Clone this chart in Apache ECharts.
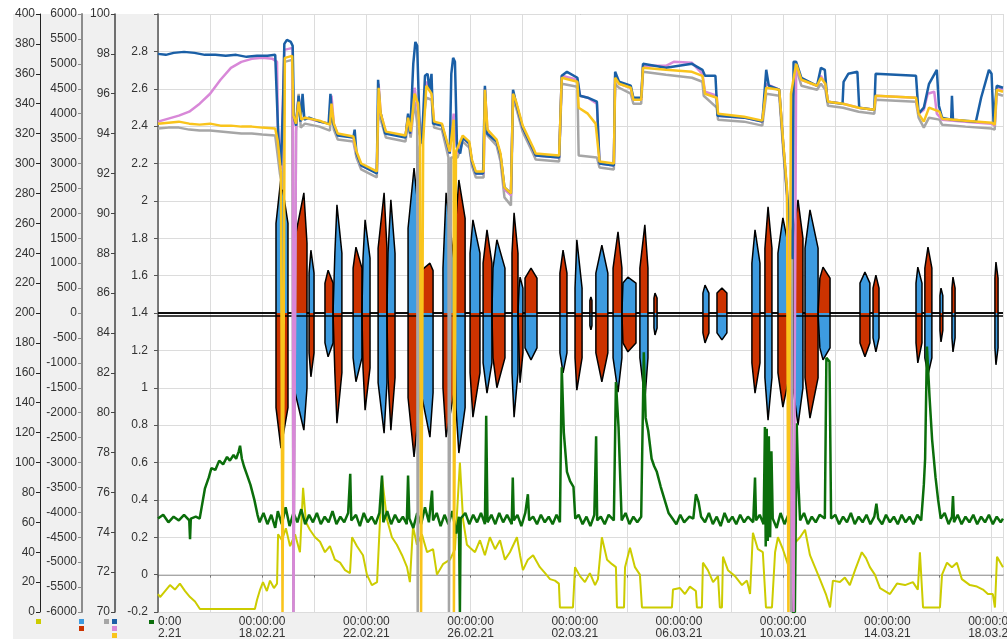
<!DOCTYPE html>
<html>
<head>
<meta charset="utf-8">
<script src="https://cdn.jsdelivr.net/npm/echarts@6/dist/echarts.min.js"></script>
<style>
html,body{margin:0;padding:0;background:#fff;}
#wrap{position:relative;width:1007px;height:639px;overflow:hidden;background:#fff;}
.panel{position:absolute;background:#f0f0f0;}
#plotBg{position:absolute;left:158px;top:14px;width:845px;height:598px;background:#fff;border-top:1px solid #9a9a9a;box-sizing:border-box;}
#chart{position:absolute;left:0;top:0;width:1007px;height:639px;}
</style>
</head>
<body>
<div id="wrap">
  <div class="panel" style="left:13px;top:14px;width:145px;height:625px;"></div>
  <div class="panel" style="left:13px;top:612px;width:994px;height:27px;"></div>
  <div id="plotBg"></div>
  <div id="chart"></div>
</div>
<script>
// x values are days counted from 14.02.2021 00:00
const DAY0 = Date.UTC(2021, 1, 14);
const X_MAX = 32.44;

// top group (axis 70..100)
const blueTop = [[0,98.0],[0.3,97.95],[0.6,98.05],[1.0,98.1],[1.4,98.05],[1.8,97.95],[2.2,97.95],[2.6,97.9],[3.0,97.95],[3.4,97.85],[3.8,97.9],[4.2,97.9],[4.5,97.95],[4.57,97.9],
  [4.62,93.8],[4.72,92.4],[4.8,95.5],[4.85,98.5],[4.95,98.7],[5.1,98.6],[5.17,98.4],[5.22,94.8],
  [5.3,94.4],[5.4,95.9],[5.47,94.6],[5.55,96.0],[5.62,94.7],[5.8,94.8],[6.2,94.6],[6.55,94.5],[6.62,96.0],[6.7,94.6],[6.9,93.9],[7.5,93.8],[7.55,94.2],[7.62,93.0],[7.8,92.4],[8.4,92.0],[8.45,96.7],[8.52,95.2],[8.72,94.0],[9.5,93.8],[9.6,95.0],[9.68,94.0],[9.8,97.5],[9.88,98.6],[9.95,98.4],[10.05,94.0],[10.13,93.5],[10.25,96.9],[10.35,97.0],[10.42,96.2],[10.5,97.0],[10.56,94.5],[10.9,94.4],[11.2,93.0],[11.26,97.0],[11.33,97.8],[11.4,97.6],[11.48,93.3],[11.6,93.0],[11.7,93.8],[11.95,93.5],[12.05,92.6],[12.2,92.0],[12.48,92.0],[12.55,96.4],[12.63,94.0],[13.0,93.6],[13.15,92.9],[13.3,91.3],[13.55,91.0],[13.63,96.2],[13.75,95.5],[14.0,94.3],[14.4,93.2],[14.5,92.9],[15.4,92.8],[15.5,96.9],[15.7,97.1],[16.1,96.8],[16.2,95.9],[16.5,95.8],[16.85,95.6],[16.95,92.5],[17.5,92.4],[17.55,97.1],[17.7,96.6],[18.15,96.4],[18.25,95.8],[18.55,95.8],[18.62,97.5],[19.5,97.3],[20.0,97.4],[20.5,97.5],[20.9,97.2],[21.0,96.9],[21.4,96.9],[21.48,94.9],[22.5,94.8],[23.2,94.6],[23.35,97.2],[23.45,96.4],[23.85,96.2],[24.0,93.5],[24.15,91.0],[24.36,87.7],[24.4,97.6],[24.5,97.6],[24.7,96.8],[25.3,96.4],[25.45,97.3],[25.6,97.2],[25.7,95.6],[26.28,95.5],[26.32,96.6],[26.5,97.0],[26.85,97.1],[26.92,95.3],[27.5,95.2],[27.55,97.0],[29.1,96.9],[29.2,95.0],[29.4,95.3],[29.6,96.5],[29.9,97.2],[29.98,95.4],[30.1,94.8],[30.45,94.7],[30.48,95.9],[30.52,94.7],[31.4,94.6],[31.6,95.8],[31.9,97.2],[32.0,97.0],[32.08,94.5],[32.2,96.4],[32.44,96.3]];

const goldTop = [[0,94.5],[0.4,94.55],[0.8,94.6],[1.2,94.5],[1.6,94.45],[2.0,94.5],[2.4,94.4],[2.8,94.4],[3.2,94.35],[3.6,94.35],[4.0,94.3],[4.5,94.25],[4.6,93.6],[4.72,92.0],[4.78,70],[4.84,70],[4.87,97.8],[5.15,97.9],[5.2,94.9],[5.3,94.5],[5.4,95.6],[5.5,94.7],[5.64,94.8],[6.2,94.65],[6.6,94.45],[6.66,95.5],[6.75,94.5],[6.9,94.0],[7.5,93.85],[7.62,93.1],[7.8,92.5],[8.4,92.1],[8.47,96.3],[8.55,95.0],[8.75,94.1],[9.5,93.9],[9.6,94.8],[9.7,94.1],[9.85,96.0],[9.98,95.5],[10.06,93.6],[10.1,70],[10.14,70],[10.18,93.6],[10.3,96.4],[10.5,96.0],[10.6,94.6],[10.9,94.5],[11.2,93.1],[11.35,94.7],[11.36,70],[11.4,70],[11.44,93.1],[11.7,93.9],[11.95,93.6],[12.05,92.7],[12.2,92.1],[12.5,92.1],[12.55,96.2],[12.65,94.2],[13.0,93.7],[13.15,93.0],[13.3,91.3],[13.55,91.0],[13.63,96.0],[13.75,95.6],[14.0,94.4],[14.4,93.3],[14.5,93.0],[15.4,92.9],[15.5,96.8],[16.1,96.6],[16.15,95.3],[16.5,95.0],[16.8,94.5],[16.95,92.6],[17.5,92.5],[17.55,96.8],[17.7,96.5],[18.15,96.3],[18.25,95.7],[18.55,95.7],[18.62,97.3],[19.5,97.2],[20.5,97.1],[20.9,96.9],[21.0,96.0],[21.45,95.8],[21.5,95.0],[22.5,94.85],[23.2,94.65],[23.35,96.3],[23.85,96.2],[24.0,93.6],[24.15,91.2],[24.2,70],[24.26,70],[24.3,96.0],[24.5,97.5],[24.7,96.7],[25.3,96.4],[25.45,96.8],[25.62,96.5],[25.72,95.6],[26.3,95.5],[26.9,95.3],[27.5,95.2],[27.55,95.9],[29.1,95.8],[29.2,95.0],[29.4,94.6],[29.6,95.3],[30.0,95.1],[30.1,94.75],[31.0,94.65],[32.0,94.55],[32.12,94.45],[32.2,96.2],[32.44,96.1]];

const pinkTop = [[0,94.6],[0.4,94.75],[0.8,94.9],[1.2,95.1],[1.6,95.5],[2.0,96.0],[2.4,96.7],[2.8,97.3],[3.2,97.6],[3.6,97.75],[4.0,97.8],[4.4,97.75],[4.57,97.6],[4.6,94.4],[4.72,92.2],[4.85,98.2],[5.17,98.3],[5.2,70],[5.26,70],[5.3,94.5],[5.4,95.8],[5.5,94.7],[5.64,94.8],[6.2,94.6],[6.6,94.5],[6.66,95.9],[6.75,94.5],[6.9,93.95],[7.5,93.8],[7.62,93.0],[7.8,92.4],[8.4,92.05],[8.47,96.5],[8.55,95.0],[8.75,94.05],[9.5,93.85],[9.6,94.9],[9.7,94.0],[9.85,96.3],[10.0,95.0],[10.13,93.5],[10.3,96.6],[10.5,96.2],[10.6,94.5],[10.9,94.45],[11.2,93.0],[11.35,95.0],[11.5,93.0],[11.7,93.8],[11.95,93.5],[12.05,92.6],[12.2,92.0],[12.5,92.0],[12.55,96.3],[12.65,94.1],[13.0,93.6],[13.15,92.9],[13.3,91.2],[13.55,90.9],[13.63,96.1],[13.75,95.5],[14.0,94.3],[14.4,93.2],[14.5,92.9],[15.4,92.8],[15.5,96.9],[16.1,96.7],[16.2,95.9],[16.5,95.8],[16.85,95.5],[16.95,92.5],[17.5,92.4],[17.55,96.9],[17.7,96.5],[18.15,96.3],[18.25,95.7],[18.55,95.7],[18.62,97.4],[19.5,97.4],[19.8,97.6],[20.5,97.55],[20.9,97.0],[21.0,96.1],[21.45,95.9],[21.5,94.9],[22.5,94.8],[23.2,94.6],[23.35,96.5],[23.85,96.2],[24.0,93.5],[24.15,91.0],[24.4,70],[24.45,70],[24.5,97.5],[24.7,96.7],[25.3,96.4],[25.45,96.9],[25.62,96.5],[25.72,95.6],[26.3,95.5],[26.9,95.3],[27.5,95.2],[27.55,95.9],[29.1,95.8],[29.2,95.0],[29.4,95.2],[29.55,96.0],[29.8,96.1],[29.9,95.0],[30.1,94.7],[31.0,94.6],[32.0,94.5],[32.12,94.4],[32.2,96.3],[32.44,96.2]];

const grayTop = [[0,94.25],[0.4,94.3],[0.8,94.3],[1.2,94.2],[1.6,94.15],[2.0,94.15],[2.4,94.1],[2.8,94.05],[3.2,94.0],[3.6,94.0],[4.0,93.95],[4.5,93.9],[4.57,93.8],[4.68,92.0],[4.8,91.2],[4.86,97.6],[5.15,97.7],[5.2,70],[5.25,70],[5.3,94.1],[5.4,96.0],[5.48,94.3],[5.64,94.5],[6.2,94.35],[6.6,94.15],[6.66,95.2],[6.75,94.2],[6.9,93.7],[7.5,93.6],[7.62,92.8],[7.8,92.2],[8.4,91.8],[8.47,95.9],[8.55,94.7],[8.75,93.8],[9.5,93.6],[9.6,94.5],[9.7,93.8],[9.85,95.6],[9.95,94.5],[9.97,70],[10.01,70],[10.05,93.3],[10.3,95.8],[10.5,95.7],[10.6,94.3],[10.9,94.2],[11.15,92.8],[11.17,70],[11.21,70],[11.25,92.8],[11.5,92.8],[11.7,93.6],[11.95,93.3],[12.05,92.4],[12.2,91.8],[12.5,91.8],[12.55,95.8],[12.65,93.9],[13.0,93.4],[13.15,92.6],[13.3,90.8],[13.55,90.4],[13.63,95.7],[13.75,95.3],[14.0,94.1],[14.4,93.0],[14.5,92.7],[15.4,92.6],[15.5,96.5],[16.1,96.35],[16.15,92.9],[16.85,92.8],[16.95,92.3],[17.5,92.2],[17.55,96.5],[17.7,96.3],[18.15,96.0],[18.25,95.5],[18.55,95.5],[18.62,97.1],[19.5,96.95],[20.5,96.8],[20.9,96.6],[20.95,95.9],[21.45,95.3],[21.5,94.7],[22.5,94.6],[23.2,94.4],[23.35,96.0],[23.85,95.9],[24.0,93.2],[24.15,90.8],[24.3,70],[24.34,70],[24.38,95.8],[24.5,97.3],[24.7,96.4],[25.3,96.2],[25.45,96.5],[25.62,96.2],[25.72,95.4],[26.3,95.3],[26.9,95.1],[27.5,95.0],[27.55,95.7],[29.1,95.6],[29.2,94.8],[29.4,94.3],[29.6,94.8],[30.0,94.7],[30.1,94.45],[31.0,94.35],[32.0,94.25],[32.12,94.2],[32.2,96.0],[32.44,95.9]];

// pulses on the -6000..6000 axis: [start, peak, end, upPeak, upShoulder, downPeak, downShoulder, series on top]
const pulses = [
  [4.53,4.72,4.99,2710,1800,2710,1900,'b'],[5.22,5.60,5.72,2410,1400,2350,1500,'r'],[5.80,5.87,5.99,1260,800,1280,800,'b'],
  [6.41,6.53,6.72,860,600,880,600,'r'],[6.79,6.87,7.06,2170,1200,2210,1200,'b'],[7.49,7.60,7.83,1320,900,1380,900,'r'],
  [7.87,7.95,8.14,1870,1100,1950,1100,'b'],[8.45,8.68,8.79,2410,1300,2410,1400,'r'],[8.83,8.94,9.10,2270,1200,2350,1300,'b'],
  [9.60,9.83,10.06,2910,1700,2890,1700,'b'],[10.10,10.44,10.56,1000,850,2490,1600,'r'],[10.94,11.06,11.40,2410,900,2490,1500,'b'],
  [11.44,11.55,11.79,2670,1900,2810,1900,'r'],[11.98,12.09,12.36,1870,1200,2090,1200,'b'],[12.48,12.63,12.82,1670,1000,1610,1000,'r'],
  [12.86,13.01,13.32,1470,900,1500,900,'b'],[13.59,13.67,13.82,2010,1200,2090,1200,'r'],[13.86,13.90,14.01,720,500,1400,800,'b'],
  [14.09,14.32,14.55,900,700,940,700,'r'],[15.43,15.55,15.70,1260,800,1200,800,'r'],[16.01,16.08,16.28,1470,500,1550,900,'b'],
  [16.58,16.62,16.66,320,250,340,250,'r'],[16.81,17.04,17.27,1360,800,1380,800,'b'],[17.47,17.66,17.81,1630,900,1590,900,'r'],
  [17.85,18.04,18.35,720,600,780,600,'b'],[18.50,18.69,18.81,1770,900,1750,900,'r'],[19.04,19.08,19.16,400,300,440,300,'r'],
  [20.92,21.00,21.15,560,400,600,400,'b'],[21.46,21.65,21.84,500,400,540,400,'r'],[22.80,22.92,23.11,1670,1000,1610,1000,'b'],
  [23.30,23.42,23.57,2130,1300,2150,1300,'r'],[23.80,23.99,24.26,1910,1200,1890,1200,'b'],[24.38,24.57,24.76,2270,1500,2250,1500,'r'],
  [24.84,25.03,25.34,2070,1300,2110,1300,'b'],[25.41,25.53,25.80,920,700,940,700,'r'],[26.95,27.14,27.33,820,600,880,600,'b'],
  [27.45,27.56,27.68,760,500,780,500,'r'],[29.10,29.17,29.33,920,600,1000,600,'b'],[29.44,29.56,29.71,1320,900,1240,900,'r'],
  [30.02,30.06,30.13,500,350,580,350,'b'],[30.48,30.52,30.60,720,500,780,500,'r'],[32.13,32.17,32.25,1020,700,1040,700,'r']
];
// lower edge of the black zero band on the same axis
const zeroBandLow = -60;

// green line (axis -0.2..3.0)
const greenLine = [[0,0.30],[0.2,0.32],[0.4,0.28],[0.6,0.31],[0.8,0.29],[1.0,0.32],[1.2,0.29],[1.23,0.19],[1.26,0.30],[1.45,0.31],[1.6,0.30],
  [1.7,0.38],[1.8,0.46],[1.95,0.52],[2.05,0.57],[2.2,0.56],[2.35,0.61],[2.5,0.59],[2.65,0.63],[2.76,0.61],[2.9,0.64],[3.0,0.62],[3.1,0.66],[3.15,0.69],[3.22,0.62],[3.3,0.58],[3.4,0.54],[3.55,0.48],[3.7,0.40],[3.82,0.32],
  [3.9,0.28],[4.05,0.33],[4.2,0.27],[4.35,0.32],[4.5,0.25],[4.6,0.34],[4.75,0.27],[4.9,0.36],[5.05,0.26],[5.2,0.33],[5.35,0.28],[5.5,0.35],[5.65,0.27],[5.8,0.32],[5.95,0.28],[6.1,0.33],[6.25,0.27],[6.4,0.31],[6.55,0.28],[6.7,0.34],[6.85,0.27],[7.0,0.31],[7.15,0.28],[7.3,0.33],[7.38,0.54],[7.42,0.29],[7.6,0.32],[7.75,0.26],[7.9,0.33],[8.05,0.28],[8.2,0.31],[8.35,0.27],[8.5,0.33],[8.6,0.53],[8.65,0.28],[8.8,0.34],[8.95,0.27],[9.1,0.32],[9.25,0.28],[9.4,0.31],[9.55,0.27],[9.6,0.53],[9.65,0.30],[9.8,0.25],[9.95,0.33],[10.1,0.27],[10.25,0.36],[10.4,0.28],[10.52,0.45],[10.56,0.29],[10.7,0.33],[10.85,0.26],[11.0,0.32],[11.15,0.27],[11.3,0.34],[11.45,0.22],[11.55,0.31],[11.59,-0.2],[11.62,0.30],[11.8,0.33],[11.95,0.27],[12.1,0.32],[12.25,0.28],[12.4,0.33],[12.55,0.27],[12.6,0.85],[12.65,0.28],[12.8,0.32],[12.95,0.27],[13.1,0.33],[13.25,0.28],[13.4,0.32],[13.58,0.27],[13.62,0.52],[13.66,0.29],[13.8,0.32],[13.95,0.26],[14.1,0.33],[14.2,0.43],[14.25,0.29],[14.4,0.31],[14.55,0.27],[14.7,0.32],[14.85,0.28],[15.0,0.31],[15.15,0.27],[15.3,0.32],[15.43,0.28],
  [15.5,1.11],[15.58,0.76],[15.7,0.55],[15.82,0.50],[15.95,0.47],[16.02,0.30],
  [16.15,0.32],[16.3,0.27],[16.45,0.31],[16.6,0.26],[16.75,0.32],[16.82,0.74],[16.86,0.29],[17.0,0.31],[17.15,0.27],[17.3,0.32],[17.5,0.29],
  [17.58,1.03],[17.68,0.79],[17.8,0.29],[17.95,0.33],[18.1,0.27],[18.25,0.31],[18.4,0.28],[18.55,0.31],
  [18.65,1.19],[18.72,0.84],[18.82,0.77],[18.95,0.62],[19.05,0.58],[19.15,0.55],[19.3,0.47],[19.45,0.40],[19.6,0.33],[19.75,0.30],[19.9,0.27],[20.05,0.32],[20.2,0.28],[20.4,0.31],[20.55,0.30],[20.65,0.43],[20.75,0.39],[20.85,0.31],[21.0,0.28],[21.15,0.33],[21.3,0.27],[21.45,0.31],[21.6,0.26],[21.75,0.33],[21.9,0.28],[22.05,0.31],[22.2,0.27],[22.35,0.32],[22.5,0.28],[22.65,0.31],[22.85,0.28],[22.92,0.52],[22.96,0.29],[23.1,0.32],[23.25,0.27],
  [23.3,0.79],[23.33,0.15],[23.37,0.78],[23.41,0.18],[23.45,0.74],[23.5,0.20],[23.55,0.66],[23.6,0.30],[23.75,0.25],[23.9,0.33],[24.05,0.27],[24.2,0.32],[24.32,0.28],[24.36,-0.2],[24.45,-0.2],[24.52,0.81],[24.58,0.50],[24.65,0.29],[24.8,0.33],[24.95,0.27],[25.1,0.31],[25.25,0.28],[25.4,0.32],[25.6,0.30],
  [25.66,1.16],[25.78,1.14],[25.84,0.30],[26.0,0.32],[26.15,0.27],[26.3,0.31],[26.45,0.28],[26.6,0.33],[26.75,0.27],[26.9,0.31],[27.05,0.28],[27.2,0.32],[27.35,0.27],[27.5,0.31],[27.58,0.38],[27.65,0.30],[27.8,0.27],[27.95,0.32],[28.1,0.28],[28.25,0.31],[28.4,0.27],[28.55,0.32],[28.7,0.28],[28.85,0.31],[29.0,0.27],[29.15,0.32],[29.3,0.29],
  [29.4,0.48],[29.45,0.62],[29.52,1.22],[29.62,0.95],[29.72,0.72],[29.85,0.52],[29.95,0.40],[30.05,0.30],[30.2,0.33],[30.35,0.27],[30.48,0.31],[30.52,0.42],[30.56,0.28],[30.7,0.32],[30.85,0.27],[31.0,0.31],[31.15,0.28],[31.3,0.32],[31.45,0.27],[31.6,0.31],[31.75,0.28],[31.9,0.32],[32.05,0.27],[32.2,0.31],[32.35,0.28],[32.44,0.30]];

// yellow line (axis 0..400)
const yellowLine = [[0,12],[0.08,10],[0.27,14],[0.46,18],[0.65,15],[0.84,19],[1.04,14],[1.23,10],[1.42,7],[1.61,2],[3.72,2],[3.80,8],[3.92,15],[4.03,20],[4.18,14],[4.30,21],[4.45,16],[4.57,19],[4.61,52],[4.76,48],[4.91,56],[5.07,44],[5.26,52],[5.45,40],[5.57,83],[5.68,60],[5.83,55],[6.03,50],[6.22,47],[6.41,40],[6.60,44],[6.79,35],[6.99,33],[7.18,28],[7.37,26],[7.45,50],[7.64,44],[7.87,38],[8.02,25],[8.21,18],[8.41,20],[8.60,90],[8.79,62],[8.98,50],[9.17,45],[9.37,38],[9.56,30],[9.67,20],[9.79,57],[9.94,45],[10.13,52],[10.33,40],[10.56,42],[10.71,25],[10.94,32],[11.21,35],[11.40,42],[11.59,100],[11.71,62],[11.86,45],[11.98,43],[12.17,40],[12.36,48],[12.55,38],[12.74,50],[12.94,42],[13.13,48],[13.32,35],[13.51,40],[13.78,50],[13.90,38],[14.01,28],[14.20,35],[14.40,38],[14.66,30],[14.86,26],[15.05,22],[15.24,21],[15.39,19],[15.43,3],[15.93,3],[16.01,30],[16.20,24],[16.39,20],[16.58,26],[16.78,18],[16.89,22],[17.04,50],[17.24,35],[17.43,32],[17.58,30],[17.62,3],[17.89,3],[17.93,30],[18.12,43],[18.31,30],[18.50,25],[18.58,3],[19.73,3],[19.77,15],[20.04,16],[20.23,12],[20.42,17],[20.65,14],[20.69,3],[20.88,3],[20.92,33],[21.11,28],[21.31,20],[21.50,24],[21.57,3],[21.65,3],[21.69,37],[21.88,28],[22.15,24],[22.42,18],[22.61,21],[22.73,12],[22.84,53],[23.03,42],[23.22,40],[23.34,3],[23.57,3],[23.69,40],[23.80,50],[23.99,42],[24.18,32],[24.38,45],[24.65,50],[24.84,55],[25.03,38],[25.22,30],[25.41,22],[25.64,12],[25.80,3],[25.84,3],[25.91,21],[26.18,20],[26.37,23],[26.56,18],[26.76,28],[27.02,40],[27.18,36],[27.33,30],[27.52,25],[27.72,16],[28.10,12],[28.37,19],[28.68,18],[28.98,20],[29.17,15],[29.25,40],[29.37,3],[30.02,3],[30.10,25],[30.29,33],[30.48,30],[30.67,33],[30.86,22],[31.17,18],[31.44,17],[31.67,15],[31.86,12],[32.05,12],[32.13,3],[32.21,37],[32.44,30]];

function pulseData(which) {
  const pts = [[0, 0]];
  pulses.forEach(function (p) {
    const up = p[7] === which;
    const peak = up ? p[3] : -p[5];
    const sh = up ? p[4] : -p[6];
    pts.push([p[0], 0], [p[0], sh], [p[1], peak], [p[2], sh], [p[2], 0]);
  });
  pts.push([X_MAX, 0]);
  return pts;
}

function dayLabel(v) {
  if (Math.abs(v / 4 - Math.round(v / 4)) > 1e-6) return '';
  const d = new Date(DAY0 + Math.round(v) * 86400000);
  const dd = String(d.getUTCDate()).padStart(2, '0');
  const mm = String(d.getUTCMonth() + 1).padStart(2, '0');
  const yy = String(d.getUTCFullYear()).slice(2);
  return '00:00:00\n' + dd + '.' + mm + '.' + yy;
}

const FONT = 'Liberation Sans, Arial, sans-serif';

function yAx(offset, min, max, interval, lineColor, lineWidth, extra) {
  return Object.assign({
    type: 'value', position: 'left', offset: offset, min: min, max: max, interval: interval, z: 2,
    axisLine: { show: true, lineStyle: { color: lineColor, width: lineWidth } },
    axisTick: { show: true, length: 4, lineStyle: { color: lineColor } },
    axisLabel: { color: '#333', fontSize: 12, fontFamily: FONT, margin: 5, formatter: function (v) { return String(v); } },
    splitLine: { show: false }
  }, extra || {});
}

function lineSeries(name, data, yIdx, color, width, z) {
  return { name: name, type: 'line', data: data, yAxisIndex: yIdx, showSymbol: false, symbol: 'none',
    lineStyle: { color: color, width: width }, z: z, silent: true };
}

const chart = echarts.init(document.getElementById('chart'), null, { renderer: 'canvas' });

chart.setOption({
  animation: false,
  backgroundColor: 'transparent',
  grid: { left: 158, right: 4, top: 14, bottom: 27, show: false, containLabel: false, outerBoundsMode: 'none' },
  xAxis: {
    type: 'value', min: 0, max: X_MAX, interval: 2, z: 0,
    axisLine: { show: true, lineStyle: { color: '#8a8a8a', width: 1.5 } },
    axisTick: { show: true, length: 3, lineStyle: { color: '#777' } },
    axisLabel: { formatter: dayLabel, color: '#333', fontSize: 12, fontFamily: FONT, lineHeight: 12, margin: 4, showMaxLabel: false, hideOverlap: false },
    splitLine: { show: true, lineStyle: { color: '#dcdcdc', width: 1 } }
  },
  yAxis: [
    yAx(5, -0.2, 3.0, 0.2, '#555', 1.5, {
      axisLabel: { color: '#333', fontSize: 12, fontFamily: FONT, margin: 5,
        formatter: function (v) { return v > 2.9 ? '' : String(Math.round(v * 10) / 10); } },
      splitLine: { show: true, lineStyle: { color: '#dcdcdc', width: 1 } }
    }),
    yAx(43, 70, 100, 2, '#444', 1.5),
    yAx(76, -6000, 6000, 500, '#8c8c8c', 2),
    yAx(118, 0, 400, 20, '#222', 1)
  ],
  graphic: { elements: [
    { type: 'rect', shape: { x: 118, y: 613.5, width: 40, height: 26 }, style: { fill: '#f0f0f0' }, z: 1, silent: true },
    { type: 'rect', shape: { x: 36, y: 619, width: 5, height: 5 }, style: { fill: '#cccc00' }, z: 3 },
    { type: 'rect', shape: { x: 79, y: 619, width: 5, height: 5 }, style: { fill: '#3d9be0' }, z: 3 },
    { type: 'rect', shape: { x: 79, y: 626, width: 5, height: 5 }, style: { fill: '#cc3300' }, z: 3 },
    { type: 'rect', shape: { x: 104, y: 619, width: 5, height: 5 }, style: { fill: '#a6a6a6' }, z: 3 },
    { type: 'rect', shape: { x: 112, y: 619, width: 5, height: 5 }, style: { fill: '#1a5fa6' }, z: 3 },
    { type: 'rect', shape: { x: 112, y: 626, width: 5, height: 5 }, style: { fill: '#d888d8' }, z: 3 },
    { type: 'rect', shape: { x: 112, y: 633, width: 5, height: 5 }, style: { fill: '#f9c41c' }, z: 3 },
    { type: 'rect', shape: { x: 149, y: 620, width: 5, height: 4 }, style: { fill: '#0b6e0b' }, z: 3 }
  ] },
  series: [
    Object.assign(lineSeries('lightblue', pulseData('b'), 2, '#000', 1.5, 3), {
      areaStyle: { color: '#3d9be0', opacity: 1 },
      markLine: { silent: true, symbol: 'none', label: { show: false }, lineStyle: { color: '#000', width: 1.5, type: 'solid' }, data: [{ yAxis: zeroBandLow }] }
    }),
    Object.assign(lineSeries('red', pulseData('r'), 2, '#000', 1.5, 3), { areaStyle: { color: '#cc3300', opacity: 1 } }),
    lineSeries('yellow', yellowLine, 3, '#cccc00', 2, 4),
    lineSeries('green', greenLine, 0, '#0b6e0b', 2.5, 5),
    lineSeries('gray', grayTop, 1, '#a6a6a6', 2.5, 6),
    lineSeries('pink', pinkTop, 1, '#d888d8', 2.5, 7),
    lineSeries('blue', blueTop, 1, '#1a5fa6', 2.5, 8),
    lineSeries('gold', goldTop, 1, '#f9c41c', 2.5, 9)
  ]
});
</script>
</body>
</html>
